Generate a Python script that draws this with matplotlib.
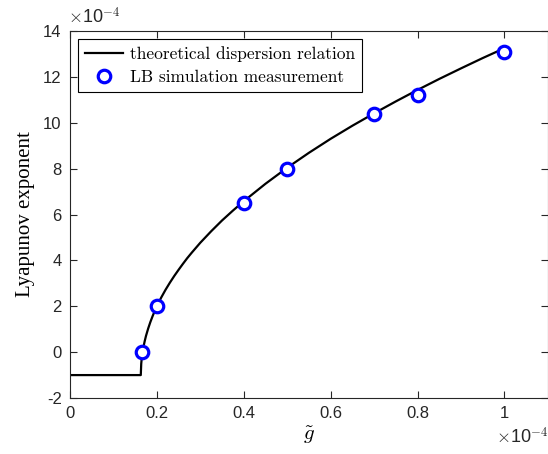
import matplotlib.pyplot as plt

# values in units of 1e-4
curve_g = [0.0, 0.163, 0.164, 0.165, 0.167, 0.168, 0.17, 0.172, 0.175, 0.18, 0.185,
           0.19, 0.195, 0.2, 0.21, 0.22, 0.23, 0.24, 0.25, 0.26, 0.27, 0.28, 0.3,
           0.325, 0.35, 0.375, 0.4, 0.45, 0.5, 0.55, 0.6, 0.65, 0.7, 0.75, 0.8,
           0.85, 0.9, 0.95, 1.0]
curve_lyap = [-1.0, -1.0, -0.51, -0.30, -0.02, 0.10, 0.30, 0.48, 0.71, 1.03, 1.31,
              1.56, 1.79, 2.00, 2.38, 2.72, 3.03, 3.32, 3.59, 3.85, 4.10, 4.33, 4.77,
              5.27, 5.74, 6.17, 6.58, 7.34, 8.04, 8.69, 9.30, 9.87, 10.41, 10.93, 11.43,
              11.91, 12.37, 12.82, 13.25]

sim_g = [0.1667, 0.2, 0.4, 0.5, 0.7, 0.8, 1.0]
sim_lyap = [0.0, 2.0, 6.52, 7.97, 10.4, 11.22, 13.07]

xticks = [0, 0.2, 0.4, 0.6, 0.8, 1.0]
xticklabels = ["0", "0.2", "0.4", "0.6", "0.8", "1"]
yticks = [-2, 0, 2, 4, 6, 8, 10, 12, 14]

plt.rcParams['mathtext.fontset'] = 'cm'
axis_col = '#262626'
tick_font = 'Liberation Sans'

fig = plt.figure(figsize=(5.48, 4.54), dpi=100)
ax = fig.add_axes([0.1277, 0.1233, 0.872, 0.8084])

ax.plot(curve_g, curve_lyap, color='black', lw=1.6,
        label='theoretical dispersion relation')
ax.plot(sim_g, sim_lyap, 'o', ms=9, mfc='white', mec='#0000ff', mew=2.3,
        linestyle='none', label='LB simulation measurement')

ax.set_xlim(0, 1.1)
ax.set_ylim(-2, 14)
ax.set_xticks(xticks)
ax.set_xticklabels(xticklabels, fontfamily=tick_font, fontsize=12)
ax.set_yticks(yticks)
ax.set_yticklabels([str(v) for v in yticks], fontfamily=tick_font, fontsize=12)
ax.tick_params(direction='in', top=True, right=True, length=5, width=0.8,
               colors=axis_col, labelcolor=axis_col, pad=6)
for s in ax.spines.values():
    s.set_color(axis_col)
    s.set_linewidth(0.8)

ax.set_xlabel(r'$\tilde{g}$', fontsize=15, labelpad=2)
ax.set_ylabel('Lyapunov exponent', fontfamily='Liberation Serif', fontsize=15,
              labelpad=6)

offset = r'$\times$10$^{\mathsf{-4}}$'
fig.text(0.125, 0.94, offset, fontfamily=tick_font, fontsize=13,
         color=axis_col, ha='left', va='bottom')
fig.text(0.905, 0.015, offset, fontfamily=tick_font, fontsize=13,
         color=axis_col, ha='left', va='bottom')

leg = ax.legend(loc='upper left', prop={'family': 'cmr10', 'size': 12.5},
                fancybox=False, edgecolor='black', framealpha=1,
                borderpad=0.4, handlelength=2.2, handletextpad=0.4,
                labelspacing=0.45, borderaxespad=0.45)
leg.get_frame().set_linewidth(0.8)

fig.savefig('out.png', dpi=100)
